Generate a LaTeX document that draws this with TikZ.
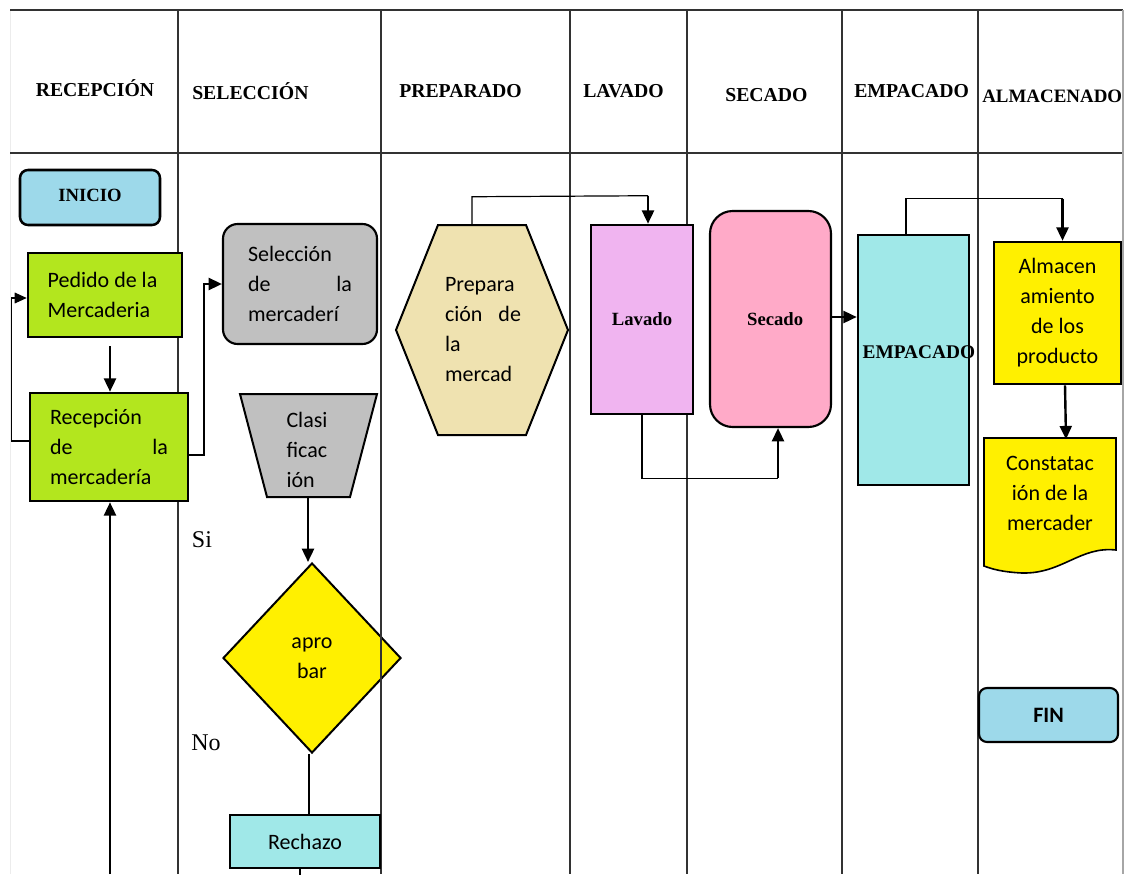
\documentclass[tikz,border=0pt]{standalone}
\usepackage{fontspec}
\setmainfont{Liberation Serif}
\newfontfamily\calib{Carlito}
\usetikzlibrary{arrows.meta,calc,shapes.geometric}
\definecolor{cblue}{RGB}{157,217,234}
\definecolor{cgreen}{RGB}{179,230,30}
\definecolor{cgray}{RGB}{192,192,192}
\definecolor{cyel}{RGB}{255,240,0}
\definecolor{cwheat}{RGB}{239,226,176}
\definecolor{cviolet}{RGB}{240,180,240}
\definecolor{cpink}{RGB}{255,170,200}
\definecolor{ccyan}{RGB}{160,232,232}
\definecolor{cline}{RGB}{50,50,50}
\begin{document}
\begin{tikzpicture}[x=0.75pt,y=-0.75pt,
  col/.style={draw=cline, line width=1.1pt},
  hdr/.style={font=\fontsize{14.8}{17}\selectfont\bfseries, inner sep=0pt},
  box/.style={draw=black, line width=1.9pt, inner sep=0pt, font=\calib\fontsize{16.5}{22.5}\selectfont},
  bbox/.style={draw=black, line width=1.9pt, inner sep=0pt, font=\fontsize{14}{17}\selectfont\bfseries},
  txt/.style={inner sep=0pt, font=\calib\fontsize{16.5}{22.5}\selectfont},
  lbl/.style={inner sep=0pt, font=\fontsize{18}{20}\selectfont},
  arrT/.style={line width=1.8pt, -{Triangle[length=10pt,width=9pt]}},
  thinl/.style={line width=0.9pt},
  thinA/.style={line width=0.9pt, -{Triangle[length=9pt,width=8pt]}}
]
\useasboundingbox (0,0) rectangle (1126,874);
% ---- table lines
\draw[draw=gray!15, line width=0.6pt] (10,10) -- (10,874);
\draw[col] (10,10) -- (1123,10);
\draw[col] (10,153) -- (1123,153);
\foreach \xx in {178,381,570,687,842,978} \draw[col] (\xx,10) -- (\xx,874);
\draw[draw=gray!70, line width=1.1pt] (1123,10) -- (1123,874);
% ---- headers
\node[hdr] (h1) at (95,88) {RECEPCIÓN};
\node[hdr, anchor=west] (h2) at (192,91) {SELECCIÓN};
\node[hdr, anchor=west] (h3) at (399,91) {PREPARADO};
\node[hdr, anchor=west] (h4) at (583,91) {LAVADO};
\node[hdr, anchor=west] (h5) at (725,95) {SECADO};
\node[hdr, anchor=west] (h6) at (854,91) {EMPACADO};
\node[hdr, anchor=west, font=\fontsize{14.2}{17}\selectfont\bfseries] (h7) at (982,96) {ALMACENADO};
% ---- RECEPCION column
\node[bbox, fill=cblue, rounded corners=6pt, minimum width=105pt, minimum height=41.25pt] (inicio) at (90,197.5) {\raisebox{3pt}{INICIO}};
\node[box, fill=cgreen, minimum width=115.5pt, minimum height=63pt, text width=88pt, align=flush left] (ped) at (105,295) {\hspace*{1pt}Pedido de la\\\hspace*{1pt}Mercaderia};
\node[box, fill=cgreen, minimum width=118.5pt, minimum height=81pt, text width=88.5pt, align=flush left] (rec) at (109,447) {Recepción\\de\hfill la\\mercadería};
% ---- SELECCION column
\node[box, line width=1.6pt, fill=cgray, rounded corners=11pt, minimum width=115.5pt, minimum height=90pt, text width=78pt, align=flush left] (sel) at (300,284) {Selección\\de\hfill la\\mercaderí};
\path[fill=cgray, draw=black, line width=1.5pt] (240,394) -- (377,394) -- (350,497) -- (267,497) -- cycle;
\node[txt, minimum width=102.75pt, minimum height=77.25pt] (clas) at (308.5,445.5) {\begin{minipage}{36pt}\raggedright\vspace*{6pt}\hspace*{1.5pt}Clasi\\\hspace*{1.5pt}ficac\\\hspace*{1.5pt}ión\end{minipage}};
\node[box, line width=1.5pt, shape=diamond, fill=cyel, minimum width=133.5pt, minimum height=142.5pt, align=center] (dia) at (312,658) {apro\\bar};
\node[box, fill=ccyan, minimum width=112.5pt, minimum height=39.75pt] (rech) at (305,841.5) {Rechazo};
\node[lbl] (si) at (202,540) {Si};
\node[lbl] (no) at (206,743) {No};
% ---- PREPARADO
\path[fill=cwheat, draw=black, line width=1.5pt] (396,330) -- (438,225) -- (526,225) -- (568,330) -- (526,435) -- (438,435) -- cycle;
\node[txt, minimum width=129.75pt, minimum height=157.5pt, text width=57pt, align=flush left] (prep) at (483,330) {Prepara\\ción\hfill de\\la\\mercad};
% ---- LAVADO / SECADO
\node[bbox, fill=cviolet, minimum width=76.5pt, minimum height=141.75pt] (lav) at (642,319.5) {\raisebox{-2pt}{Lavado}};
\node[bbox, line width=1.6pt, fill=cpink, rounded corners=17pt, minimum width=90.75pt, minimum height=162pt] (sec) at (770.5,319) {\makebox[0pt]{\hspace{7pt}\raisebox{-3pt}{Secado}}};
% ---- EMPACADO
\node[bbox, fill=ccyan, minimum width=83.25pt, minimum height=187.5pt] (emp) at (913.5,360) {\makebox[0pt]{\hspace{8pt}\raisebox{12pt}{\fontsize{14.5}{17}\selectfont EMPACADO}}};
% ---- ALMACENADO
\node[box, fill=cyel, minimum width=95.25pt, minimum height=106.5pt, align=center] (alm) at (1057.5,313) {Almacen\\amiento\\de los\\producto};
\path[fill=cyel, draw=black, line width=1.2pt] (984,438) -- (1116,438) -- (1116,550)
  .. controls (1080,546) and (1062,574) .. (1022,573)
  .. controls (1002,572) and (992,569) .. (984,566) -- cycle;
\node[txt, minimum width=99.75pt, minimum height=82.5pt, align=center] (const) at (1050,493) {Constatac\\ión de la\\mercader};
\node[box, line width=1.6pt, fill=cblue, rounded corners=6pt, minimum width=104.25pt, minimum height=40.5pt, font=\calib\bfseries\fontsize{16.5}{20}\selectfont] (fin) at (1048.5,715) {FIN};
% column line over the diamond
\draw[col] (381,540) -- (381,780);
% ---- connectors
\coordinate (pa) at ($(ped.south)+(0,8)$);
\draw[arrT] ($(rec.north |- pa)+(1,0)$) -- ($(rec.north)+(1,0)$);
\draw[thinA] ($(rec.west)+(0,-6)$) -| ($(ped.west)+(-15,3)$) -- ($(ped.west)+(0,3)$);
\draw[arrT] ($(rec.east)+(0,8)$) -| ($(sel.west)+(-18,0)$) -- (sel.west);
\coordinate (bot) at (110,874);
\draw[arrT] (bot) -- (bot |- rec.south);
\draw[arrT] ($(clas.south)+(-0.5,0)$) -- ($(clas.south |- dia.north)+(-0.5,0)$);
\draw[thinl] ($(dia.south)+(-3,0)$) -- ($(dia.south |- rech.north)+(-3,0)$);
\draw[thinl] ($(rech.south)+(-5,0)$) -- ($(rech.south)+(-5,6)$);
\coordinate (p1) at ($(prep.north)+(-11,-28)$);
\coordinate (p2) at ($(lav.north)+(6,-28)$);
\draw[thinl] ($(prep.north)+(-11,0)$) -- (p1) -- (p2);
\draw[arrT] (p2) -- ($(lav.north)+(6,0)$);
\coordinate (l1) at ($(lav.south)+(0,63)$);
\draw[thinl] (lav.south) -- (l1) -- (l1 -| {$(sec.south)+(7.5,0)$});
\draw[arrT] ($(sec.south)+(7.5,50)$) -- ($(sec.south)+(7.5,0)$);
\draw[arrT] ($(sec.east)+(0,-2)$) -- ($(emp.west |- sec.east)+(0,-2)$);
\coordinate (e1) at ($(emp.north)+(-7.5,-35)$);
\coordinate (e2) at ($(alm.north)+(5,-42)$);
\draw[thinl] ($(emp.north)+(-7.5,0)$) -- (e1) -- (e2);
\draw[arrT] (e2) -- ($(alm.north)+(5,0)$);
\draw[arrT] ($(alm.south)+(7.5,0)$) -- ($(alm.south)+(8.5,54)$);
\end{tikzpicture}
\end{document}
